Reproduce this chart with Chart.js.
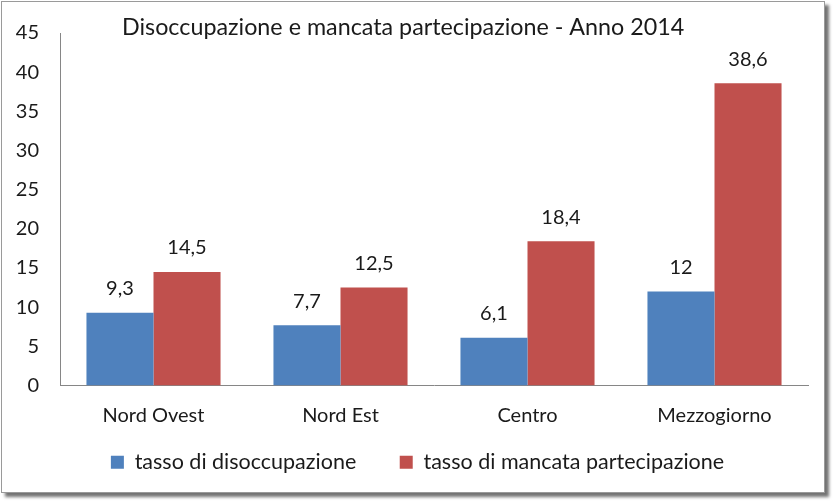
<!DOCTYPE html>
<html>
<head>
<meta charset="utf-8">
<script src="https://cdn.jsdelivr.net/npm/chart.js@4/dist/chart.umd.min.js"></script>
<style>
  html, body { margin: 0; padding: 0; background: #ffffff; }
  #frame { position: absolute; left: 1px; top: 1px; width: 822px; height: 490px;
           border: 1px solid #9a9a9a; box-shadow: 4px 4px 3px rgba(0,0,0,0.55); background: #fff; }
  #wrap { position: absolute; left: 0; top: 0; width: 835px; height: 502px; }
</style>
</head>
<body>
<div id="frame"></div>
<div id="wrap"><canvas id="c" width="835" height="502"></canvas></div>
<script>
const titleText = "Disoccupazione e mancata partecipazione - Anno 2014";
const categories = ["Nord Ovest", "Nord Est", "Centro", "Mezzogiorno"];
const seriesNames = ["tasso di disoccupazione", "tasso di mancata partecipazione"];
const disoccupazione = [9.3, 7.7, 6.1, 12];
const mancataPartecipazione = [14.5, 12.5, 18.4, 38.6];
const yTicks = [0, 5, 10, 15, 20, 25, 30, 35, 40, 45];

const FONT = "Lato, 'Open Sans', sans-serif";
const fmt = v => String(v).replace('.', ',');

const labelPlugin = {
  id: 'valueLabels',
  afterDatasetsDraw(chart) {
    const ctx = chart.ctx;
    ctx.save();
    ctx.font = "20px " + FONT;
    ctx.fillStyle = "#1a1a1a";
    ctx.textAlign = "center";
    ctx.textBaseline = "middle";
    chart.data.datasets.forEach((ds, i) => {
      chart.getDatasetMeta(i).data.forEach((bar, j) => {
        ctx.fillText(fmt(ds.data[j]), bar.x, bar.y - 24);
      });
    });
    ctx.restore();
  }
};

const titlePlugin = {
  id: 'insideTitle',
  afterDraw(chart) {
    const ctx = chart.ctx;
    ctx.save();
    ctx.font = "23.3px " + FONT;
    ctx.fillStyle = "#1a1a1a";
    ctx.textAlign = "left";
    ctx.textBaseline = "middle";
    ctx.fillText(titleText, 122, 27);
    ctx.restore();
  }
};

new Chart(document.getElementById('c'), {
  type: 'bar',
  data: {
    labels: categories,
    datasets: [
      { label: seriesNames[0], data: disoccupazione, backgroundColor: '#4F81BD' },
      { label: seriesNames[1], data: mancataPartecipazione, backgroundColor: '#C0504D' }
    ]
  },
  options: {
    responsive: false,
    animation: false,
    devicePixelRatio: 1,
    layout: { padding: { left: 0, right: 0, top: 2, bottom: 19 } },
    datasets: { bar: { categoryPercentage: 0.717, barPercentage: 1.0 } },
    scales: {
      x: {
        grid: { display: false, drawTicks: false },
        border: { display: true, color: '#868686', width: 1 },
        ticks: { font: { family: FONT, size: 20 }, color: '#1a1a1a', padding: 18 },
        afterFit(s) { s.height = 44; }
      },
      y: {
        min: 0, max: 45,
        afterBuildTicks(s) { s.ticks = yTicks.map(v => ({ value: v })); },
        grid: { display: false, drawTicks: false },
        border: { display: true, color: '#868686', width: 1 },
        ticks: { font: { family: FONT, size: 20 }, color: '#1a1a1a', padding: 21 },
        afterFit(s) { s.width = 60; }
      },
      yRight: {
        position: 'right',
        min: 0, max: 45,
        grid: { display: false, drawTicks: false },
        border: { display: false },
        ticks: { display: false },
        afterFit(s) { s.width = 27; }
      }
    },
    plugins: {
      legend: {
        position: 'bottom',
        labels: {
          font: { family: FONT, size: 21.5 }, color: '#1a1a1a',
          boxWidth: 13, boxHeight: 13, padding: 22,
          generateLabels(chart) {
            const items = Chart.defaults.plugins.legend.labels.generateLabels(chart);
            items.forEach((it, i) => { if (i < items.length - 1) it.text = it.text + '\u2002\u2002'; });
            return items;
          }
        }
      },
      tooltip: { enabled: false }
    }
  },
  plugins: [labelPlugin, titlePlugin]
});
</script>
</body>
</html>
